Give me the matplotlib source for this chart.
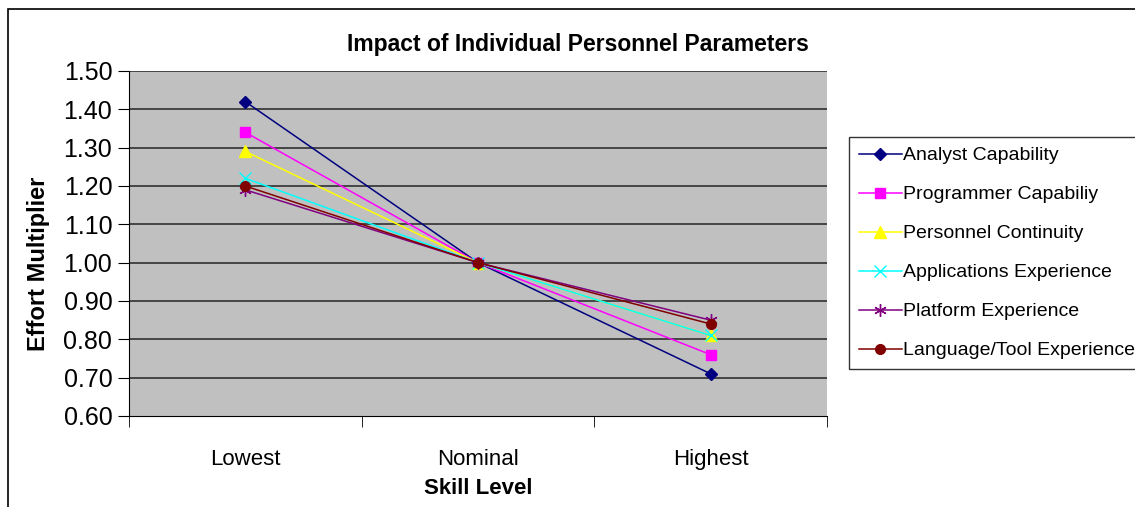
import matplotlib
matplotlib.use("Agg")
from matplotlib import pyplot as plt
from matplotlib.patches import Rectangle

plt.rcParams['font.family'] = ['Liberation Sans', 'DejaVu Sans']

levels = ["Lowest", "Nominal", "Highest"]
names = ["Analyst Capability", "Programmer Capabiliy", "Personnel Continuity",
         "Applications Experience", "Platform Experience", "Language/Tool Experience"]
acap = [1.42, 1.00, 0.71]
pcap = [1.34, 1.00, 0.76]
pcon = [1.29, 1.00, 0.81]
apex = [1.22, 1.00, 0.81]
plex = [1.19, 1.00, 0.85]
ltex = [1.20, 1.00, 0.84]

series = [acap, pcap, pcon, apex, plex, ltex]
colors = ["#000080", "#FF00FF", "#FFFF00", "#00FFFF", "#800080", "#800000"]
markers = ["D", "s", "^", "x", (6, 2, 0), "o"]
msizes = [6, 7, 8, 8, 9, 7]

W, H = 1135, 507
fig = plt.figure(figsize=(W / 100, H / 100), dpi=100)
ax = fig.add_axes([129 / W, 1 - 416 / H, (827 - 129) / W, (416 - 71) / H])
ax.set_facecolor("#C0C0C0")

# outer chart frame (cut off at right and bottom)
fig.patches.append(Rectangle((8 / W, -0.1), 1.2, (H - 9) / H + 0.1,
                             transform=fig.transFigure, fill=False,
                             edgecolor="black", linewidth=1.2))

x = range(len(levels))
for vals, name, c, m, ms in zip(series, names, colors, markers, msizes):
    ax.plot(x, vals, color=c, marker=m, markersize=ms, linewidth=1.1,
            markeredgecolor=c, markerfacecolor=c, label=name, zorder=3)

ax.set_xlim(-0.5, 2.5)
ax.set_ylim(0.60, 1.50)
yt = [0.60 + 0.1 * i for i in range(10)]
ax.set_yticks(yt)
ax.set_yticklabels(["%.2f" % v for v in yt], fontsize=18)
for v in yt[1:]:
    ax.axhline(v, color="#303030", linewidth=1.2, zorder=1)

ax.set_xticks([0, 1, 2])
ax.set_xticklabels(levels, fontsize=16)
ax.set_xticks([-0.5, 0.5, 1.5, 2.5], minor=True)
ax.tick_params(axis="x", which="major", length=0, pad=24)
ax.tick_params(axis="x", which="minor", length=8, direction="out", color="black")
ax.tick_params(axis="y", length=8, direction="out", pad=4)

for s in ["top", "right"]:
    ax.spines[s].set_visible(False)

ax.set_ylabel("Effort Multiplier", fontsize=17, fontweight="bold")
ax.yaxis.set_label_coords(-0.113, 0.44)
ax.set_xlabel("Skill Level", fontsize=16, fontweight="bold")
ax.xaxis.set_label_coords(0.5, -0.18)
fig.text(578 / W, 1 - 44 / H, "Impact of Individual Personnel Parameters",
         fontsize=16.5, fontweight="bold", ha="center", va="center")

leg = fig.legend(loc="upper left", bbox_to_anchor=(849 / W, 1 - 137 / H),
                 fontsize=14, frameon=True, fancybox=False, edgecolor="black",
                 borderpad=0.5, labelspacing=1.1, handlelength=2.2,
                 handletextpad=0.1, borderaxespad=0)
leg.get_frame().set_linewidth(1.0)

fig.savefig("out.png", dpi=100)
